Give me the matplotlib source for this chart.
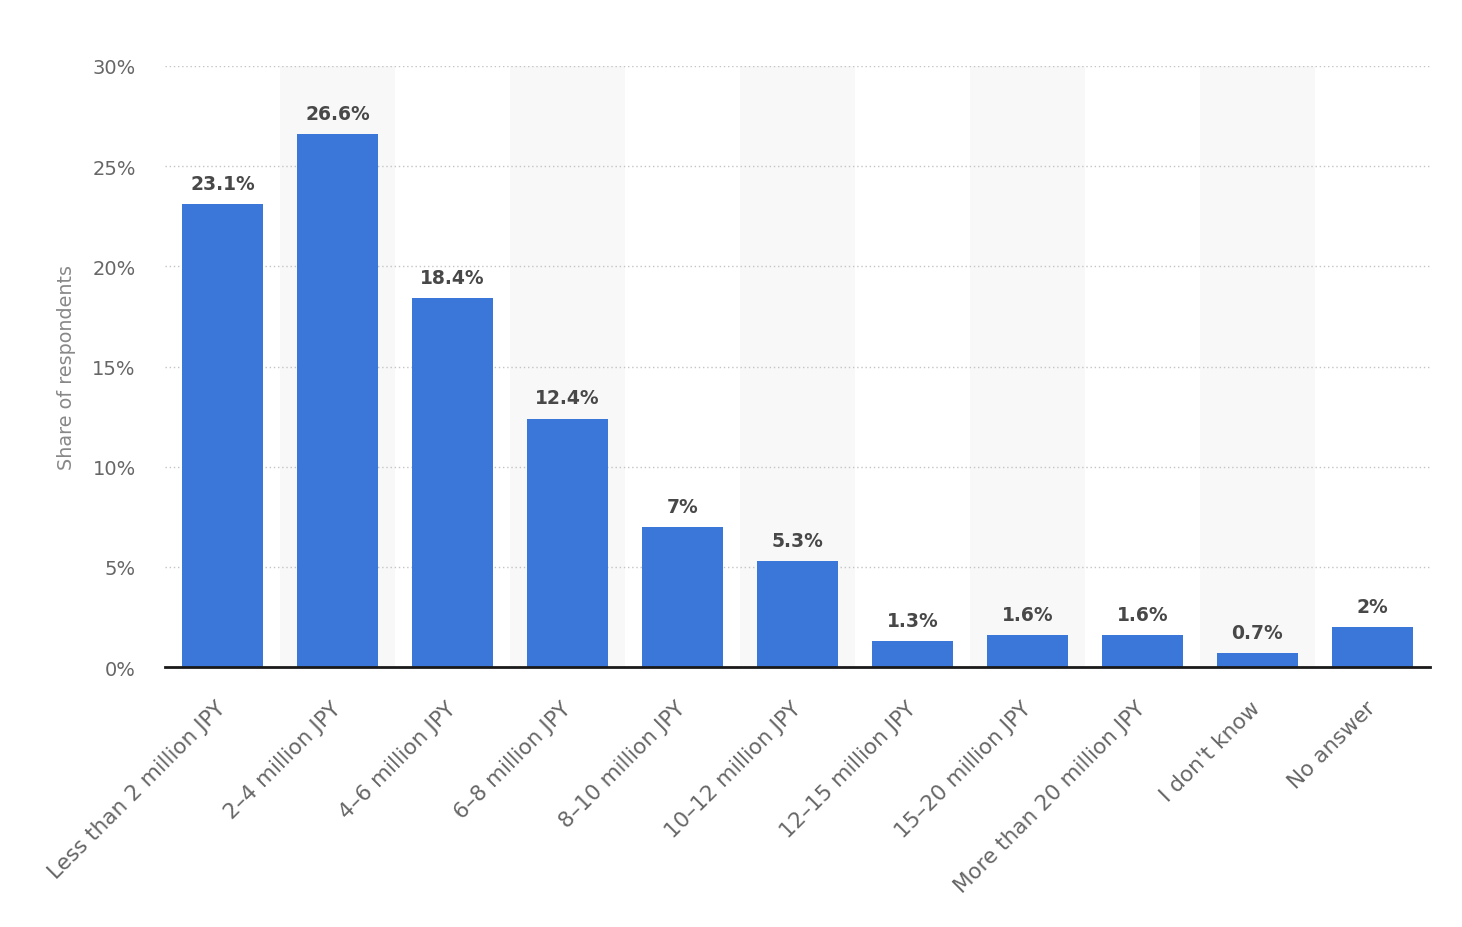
import matplotlib
matplotlib.use("Agg")
import matplotlib.pyplot as plt
import matplotlib.transforms as mtransforms
from matplotlib.ticker import FuncFormatter

categories = ["Less than 2 million JPY", "2–4 million JPY", "4–6 million JPY", "6–8 million JPY",
              "8–10 million JPY", "10–12 million JPY", "12–15 million JPY", "15–20 million JPY",
              "More than 20 million JPY", "I don't know", "No answer"]
values = [23.1, 26.6, 18.4, 12.4, 7.0, 5.3, 1.3, 1.6, 1.6, 0.7, 2.0]
value_labels = ["23.1%", "26.6%", "18.4%", "12.4%", "7%", "5.3%", "1.3%", "1.6%", "1.6%", "0.7%", "2%"]
yticks = [0, 5, 10, 15, 20, 25, 30]

plt.rcParams['font.family'] = ['DejaVu Sans']

fig = plt.figure(figsize=(14.62, 9.28), dpi=100)
ax = fig.add_axes([165/1462, 1 - 668/928, (1430-165)/1462, (668-67)/928])

n = len(categories)
x = list(range(n))
for i in x:
    if i % 2 == 1:
        ax.axvspan(i - 0.5, i + 0.5, color="#f8f8f8", zorder=0, lw=0)

ax.bar(x, values, width=0.7, color="#3a77d8", zorder=3)
for xi, v, lab in zip(x, values, value_labels):
    ax.annotate(lab, (xi, v), xytext=(0, 8), textcoords="offset points",
                ha="center", va="bottom", fontsize=13.5, fontweight="bold", color="#484848", zorder=4)

ax.set_xlim(-0.5, n - 0.5)
ax.set_ylim(0, 30)
ax.set_yticks(yticks)
ax.yaxis.set_major_formatter(FuncFormatter(lambda v, p: f"{int(v)}%"))
ax.grid(axis="y", color="#c4c4c4", linestyle=(0, (1, 2)), linewidth=1, zorder=1)
ax.set_axisbelow(True)

ax.set_xticks(x)
ax.set_xticklabels(categories, rotation=45, ha="right", rotation_mode="anchor",
                   fontsize=15.5, color="#666666")
ax.tick_params(axis="x", length=0, pad=22)
offset = mtransforms.ScaledTranslation(-7/100, 0, fig.dpi_scale_trans)
for lbl in ax.get_xticklabels():
    lbl.set_transform(lbl.get_transform() + offset)
ax.tick_params(axis="y", length=0, pad=21, labelsize=14, labelcolor="#666666")

for s in ["top", "right", "left"]:
    ax.spines[s].set_visible(False)
ax.spines["bottom"].set_color("#1a1a1a")
ax.spines["bottom"].set_linewidth(2)
ax.spines["bottom"].set_zorder(5)

ax.set_ylabel("Share of respondents", fontsize=13.8, color="#888888", labelpad=12)

fig.savefig("out.png", dpi=100)
